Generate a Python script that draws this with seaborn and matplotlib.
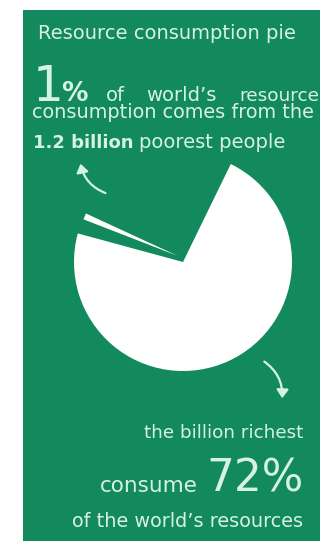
import matplotlib
matplotlib.use("Agg")
import matplotlib.pyplot as plt
import seaborn as sns
from matplotlib.patches import Rectangle, FancyArrowPatch

# ---- data ----
shares_labels = ["billion richest", "1.2 billion poorest", "everyone else"]
shares_values = [72, 1, 27]
title_text = "Resource consumption pie"
top_pct = "1"
bottom_pct = "72%"

sns.set_style("white")
plt.rcParams["font.family"] = ["DejaVu Sans"]

W, H = 320, 541
GREEN = "#13895e"
MINT = "#d6f3e2"
WHITE = "#ffffff"

fig = plt.figure(figsize=(W / 100, H / 100), dpi=100)
fig.patch.set_facecolor("white")

def fx(x):
    return x / W

def fy(y):
    return 1 - y / H

fig.add_artist(Rectangle((fx(23), 0), 1 - fx(23), fy(10), transform=fig.transFigure,
                         facecolor=GREEN, edgecolor="none", zorder=0))

# pie axes: centre (183, 262) px, radius 109 px
cx, cy, r = 183, 262, 109
ax = fig.add_axes([fx(cx - r), fy(cy + r), 2 * r / W, 2 * r / H])
ax.set_facecolor("none")

total = sum(shares_values)
# richest slice against everyone else
big, _ = ax.pie([shares_values[0], total - shares_values[0]], colors=[WHITE, GREEN],
                startangle=64, counterclock=False, radius=1.0,
                wedgeprops=dict(linewidth=0))
big[1].set_visible(False)
# poorest slice, pulled out of the pie
small, _ = ax.pie([shares_values[1], total - shares_values[1]], colors=[WHITE, GREEN],
                  startangle=158.8, counterclock=False, radius=0.93,
                  center=(-0.046, 0.055), wedgeprops=dict(linewidth=0))
small[1].set_visible(False)
ax.set_xlim(-1, 1)
ax.set_ylim(-1, 1)
ax.set_aspect("equal")
ax.axis("off")

def txt(x, y, s, size, ha="left", weight="normal"):
    fig.text(fx(x), fy(y), s, ha=ha, va="baseline", fontsize=size,
             color=MINT, fontweight=weight)

txt(38, 39, title_text, 14)
txt(33, 101, top_pct, 35)
txt(61, 101, "%", 19, weight="bold")
txt(106, 101, "of", 14)
txt(146, 101, "world\u2019s", 14)
txt(319, 101, "resource", 13.3, ha="right")
txt(32, 118, "consumption comes from the", 13.9)
txt(33, 148, "1.2 billion", 13, weight="bold")
txt(139, 148, "poorest people", 14)

txt(303, 438, "the billion richest", 13.2, ha="right")
txt(198, 492, "consume", 15.5, ha="right")
txt(304, 492, bottom_pct, 31.5, ha="right")
txt(303, 527, "of the world\u2019s resources", 13.9, ha="right")

def arrow(x0, y0, x1, y1, rad):
    a = FancyArrowPatch((fx(x0), fy(y0)), (fx(x1), fy(y1)), transform=fig.transFigure,
                        arrowstyle="-|>,head_length=0.5,head_width=0.35",
                        connectionstyle=f"arc3,rad={rad}", mutation_scale=10,
                        color=MINT, lw=1.6)
    fig.add_artist(a)

arrow(108, 194, 80, 161, -0.3)
arrow(262, 360, 282, 401, -0.3)

fig.savefig("out.png", dpi=100, facecolor=fig.get_facecolor())
